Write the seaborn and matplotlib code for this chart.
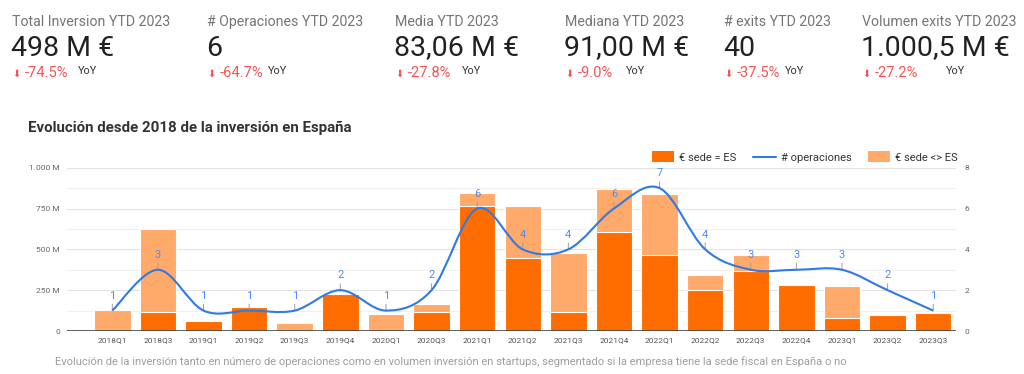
import matplotlib.pyplot as plt
import numpy as np
import pandas as pd
import seaborn as sns
from matplotlib.path import Path
from matplotlib.patches import PathPatch, Rectangle
from matplotlib.lines import Line2D

sns.set_theme(style='white')
plt.rcParams['font.family'] = ['Roboto', 'DejaVu Sans']

# Scorecards
kpi_titles = ['Total Inversion YTD 2023', '# Operaciones YTD 2023', 'Media YTD 2023',
              'Mediana YTD 2023', '# exits YTD 2023', 'Volumen exits YTD 2023']
kpi_values = ['498 M €', '6', '83,06 M €', '91,00 M €', '40', '1.000,5 M €']
kpi_deltas = ['-74.5%', '-64.7%', '-27.8%', '-9.0%', '-37.5%', '-27.2%']

# Chart data (M €, number of deals)
quarters = ['2018Q1', '2018Q3', '2019Q1', '2019Q2', '2019Q3', '2019Q4', '2020Q1', '2020Q3',
            '2021Q1', '2021Q2', '2021Q3', '2021Q4', '2022Q1', '2022Q2', '2022Q3', '2022Q4',
            '2023Q1', '2023Q2', '2023Q3']
eur_sede_es = [0, 114, 61, 147, 0, 224, 0, 116, 768, 446, 118, 605, 466, 250, 367, 283, 77, 96, 112]
eur_sede_no_es = [126, 513, 0, 0, 47, 5, 106, 49, 75, 318, 357, 262, 373, 94, 97, 0, 198, 0, 0]
n_operaciones = [1, 3, 1, 1, 1, 2, 1, 2, 6, 4, 4, 6, 7, 4, 3, 3, 3, 2, 1]

left_ticks = [0, 250, 500, 750, 1000]
left_labels = ['0', '250 M', '500 M', '750 M', '1.000 M']
right_ticks = [0, 2, 4, 6, 8]

chart_title = 'Evolución desde 2018 de la inversión en España'
footer = ('Evolución de la inversión tanto en número de operaciones como en volumen inversión en '
          'startups, segmentado si la empresa tiene la sede fiscal en España o no')

DARK = '#ff6d00'
LIGHT = '#ffa96b'
BLUE = '#2f7ae5'
LABEL_BLUE = '#4d8ff0'
RED = '#f35656'

W, H = 1024, 374
fig = plt.figure(figsize=(W / 100, H / 100), dpi=100)
fig.patch.set_facecolor('white')


def fx(px):
    return px / W


def fy(py):
    return 1 - py / H


# Scorecards row
kpi_x = [12, 207, 395, 565, 724, 862]
yoy_x = [78, 268, 462, 626, 785, 946]
for i in range(len(kpi_titles)):
    x = kpi_x[i]
    fig.text(fx(x), fy(26), kpi_titles[i], fontsize=10.2, color='#757575', va='baseline')
    fig.text(fx(x - 1), fy(55.5), kpi_values[i], fontsize=20.5, color='#212121', va='baseline')
    fig.text(fx(x + 0.5), fy(76.5), '⬇', fontsize=7, color=RED, va='baseline',
             family=['DejaVu Sans'])
    fig.text(fx(x + 12.5), fy(77), kpi_deltas[i], fontsize=10.6, color=RED, va='baseline')
    fig.text(fx(yoy_x[i]), fy(74), 'YoY', fontsize=7.8, color='#333333', va='baseline')

fig.text(fx(28), fy(132), chart_title, fontsize=10.8, fontweight='bold', color='#333333',
         va='baseline')

# Main chart
ax = fig.add_axes([fx(66.7), fy(331), fx(956) - fx(66.7), (331 - 167.7) / H])

df = pd.DataFrame({'quarter': quarters, 'es': eur_sede_es, 'no_es': eur_sede_no_es})
df['total'] = df['es'] + df['no_es']

sns.barplot(data=df, x='quarter', y='total', color=LIGHT, saturation=1, width=0.8,
            edgecolor='white', linewidth=0.8, ax=ax)
sns.barplot(data=df, x='quarter', y='es', color=DARK, saturation=1, width=0.8,
            edgecolor='white', linewidth=0.8, ax=ax)

ax.set_xlim(-1, 18.5)
ax.set_ylim(0, 1000)
ax.set_yticks(left_ticks)
ax.set_yticklabels(left_labels)
ax.set_yticks([125, 375, 625, 875], minor=True)
ax.grid(axis='y', which='major', color='#e3e3e3', lw=0.8)
ax.grid(axis='y', which='minor', color='#f0f0f0', lw=0.8)
ax.set_axisbelow(True)
ax.set_xlabel('')
ax.set_ylabel('')
ax.tick_params(axis='x', length=0, labelsize=6, colors='#555555', pad=4.3)
ax.tick_params(axis='y', which='both', length=0, labelsize=6, colors='#666666', pad=4.8)
for s in ax.spines.values():
    s.set_visible(False)
ax.axhline(0, color='#444444', lw=1.2, zorder=5)

# Deals line on right axis, smoothed like the original
ax2 = ax.twinx()
ax2.set_ylim(0, 8)
ax2.set_yticks(right_ticks)
ax2.tick_params(axis='y', length=0, labelsize=6, colors='#666666', pad=6)
for s in ax2.spines.values():
    s.set_visible(False)

pts = np.column_stack([np.arange(len(n_operaciones)), np.array(n_operaciones, float)])
n = len(pts)
verts = [tuple(pts[0])]
codes = [Path.MOVETO]
for i in range(n - 1):
    p0 = pts[max(i - 1, 0)]
    p1 = pts[i]
    p2 = pts[i + 1]
    p3 = pts[min(i + 2, n - 1)]
    c1 = p1 + (p2 - p0) / 6
    c2 = p2 - (p3 - p1) / 6
    verts += [tuple(c1), tuple(c2), tuple(p2)]
    codes += [Path.CURVE4] * 3
ax2.add_patch(PathPatch(Path(verts, codes), facecolor='none', edgecolor=BLUE, lw=1.5, zorder=6))

for i, v in enumerate(n_operaciones):
    ax2.annotate(str(v), xy=(i, v), xytext=(0, 7), textcoords='offset points',
                 ha='center', va='bottom', fontsize=8, color=LABEL_BLUE,
                 arrowprops=dict(arrowstyle='-', color='#9e9e9e', lw=0.7,
                                 shrinkA=0, shrinkB=0))

# Legend
fig.add_artist(Rectangle((fx(651.7), fy(161.7)), fx(674) - fx(651.7), (161.7 - 151) / H,
                         transform=fig.transFigure, facecolor=DARK, edgecolor='none'))
fig.text(fx(679), fy(160.5), '€ sede = ES', fontsize=8, color='#333333', va='baseline')
fig.add_artist(Line2D([fx(753), fx(776)], [fy(156.5), fy(156.5)], transform=fig.transFigure,
                      color=BLUE, lw=1.5))
fig.text(fx(781), fy(160.5), '# operaciones', fontsize=8, color='#333333', va='baseline')
fig.add_artist(Rectangle((fx(868), fy(161.7)), fx(890) - fx(868), (161.7 - 151) / H,
                         transform=fig.transFigure, facecolor=LIGHT, edgecolor='none'))
fig.text(fx(895), fy(160.5), '€ sede <> ES', fontsize=8, color='#333333', va='baseline')

fig.text(fx(55), fy(365), footer, fontsize=8.0, color='#9e9e9e', va='baseline')

fig.savefig('out.png', dpi=100)
